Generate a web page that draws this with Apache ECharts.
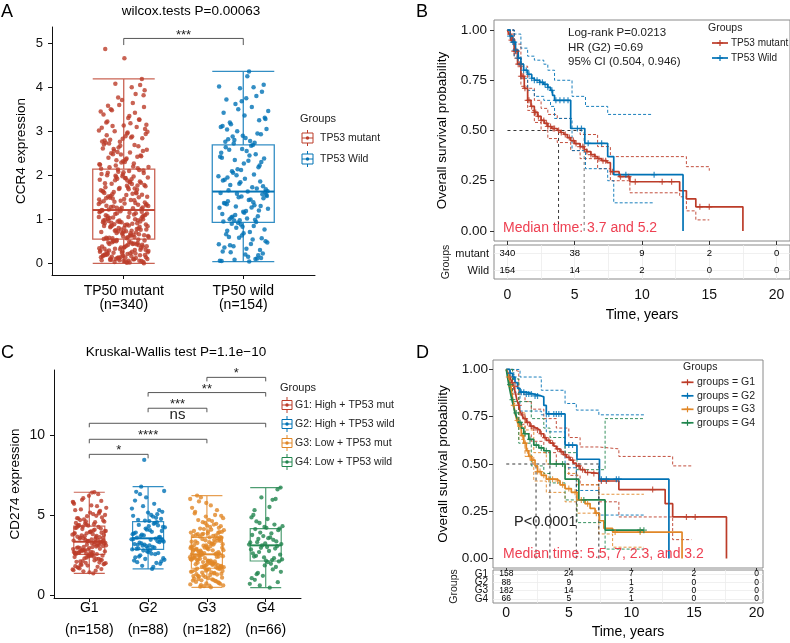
<!DOCTYPE html>
<html><head><meta charset="utf-8">
<script src="https://cdn.jsdelivr.net/npm/echarts@6/dist/echarts.min.js"></script>
<style>html,body{margin:0;padding:0;background:#fff}#c{width:790px;height:643px}</style>
</head><body><div id="c"></div>
<script>
const FONT = '"Liberation Sans", Arial, sans-serif';
const RED = '#BC3C29', BLUE = '#0072B5', ORANGE = '#E18727', GREEN = '#20854E';
const MEDRED = '#EE4052';

// ---------------- Panel A data ----------------
const titleA = 'wilcox.tests P=0.00063';
const legendA = ['TP53 mutant', 'TP53 Wild'];
const xLabelsA = ['TP50 mutant\n(n=340)', 'TP50 wild\n(n=154)'];
const yTicksA = [0, 1, 2, 3, 4, 5];
const boxMutantA = [0, 0.55, 1.21, 2.14, 4.19];
const boxWildA = [0.04, 0.93, 1.63, 2.69, 4.36];
const ccr4Mutant = [
0.02,0.11,0.05,0.27,0.18,0.09,0.33,0.14,0.01,0.22,0.41,0.07,0.29,0.16,0.48,0.03,0.36,0.2,0.12,0.53,
0.25,0.06,0.44,0.31,0.15,0.38,0.09,0.5,0.19,0.04,0.27,0.46,0.13,0.34,0.23,0.08,0.42,0.17,0.55,0.3,
0.1,0.39,0.21,0.47,0.06,0.32,0.14,0.26,0.51,0.0,0.37,0.19,0.43,0.12,0.28,0.49,0.08,0.35,0.24,0.16,
0.45,0.03,0.31,0.4,0.2,0.54,0.11,0.26,0.47,0.15,0.38,0.05,0.33,0.22,0.5,0.1,0.42,0.29,0.18,0.36,
0.07,0.44,0.24,0.52,0.13,
0.58,0.91,0.72,1.05,0.63,0.84,1.17,0.69,0.97,0.6,1.12,0.77,0.88,1.01,0.66,0.94,1.19,0.74,0.57,1.08,
0.81,0.99,0.7,1.14,0.62,0.86,1.03,0.76,0.93,1.2,0.65,0.89,1.1,0.73,0.56,0.98,0.8,1.16,0.68,0.92,
1.06,0.61,0.85,1.0,0.75,1.13,0.59,0.96,0.83,1.18,0.71,0.9,1.04,0.64,0.87,1.09,0.78,0.95,0.6,1.15,
0.82,1.02,0.67,0.93,1.11,0.74,0.88,0.57,1.07,0.79,0.97,1.19,0.63,0.86,1.0,0.72,0.91,1.14,0.69,0.84,
1.05,0.58,0.95,0.77,1.21,
1.25,1.62,1.38,1.94,1.31,1.77,2.08,1.45,1.85,1.28,1.56,2.02,1.41,1.7,1.99,1.34,1.88,1.52,2.12,1.23,
1.66,1.8,1.47,2.05,1.36,1.73,1.59,1.92,1.3,2.1,1.49,1.83,1.26,1.64,1.97,1.4,1.75,1.55,2.0,1.33,
1.69,1.9,1.44,1.81,1.27,2.07,1.6,1.37,1.96,1.51,1.72,1.22,1.86,1.42,2.03,1.58,1.29,1.78,1.93,1.48,
1.67,2.13,1.35,1.84,1.53,1.24,1.98,1.63,1.43,1.89,1.32,1.76,2.06,1.5,1.71,1.39,1.91,1.57,2.11,1.46,
1.82,1.61,1.26,1.95,1.68,
2.18,2.45,2.29,2.77,2.2,2.56,3.05,2.36,2.91,2.16,2.63,2.25,3.18,2.5,2.84,2.32,2.7,3.42,2.22,2.58,
2.97,2.4,3.26,2.67,2.15,2.88,2.48,3.55,2.3,2.74,3.1,2.53,2.19,3.35,2.81,2.43,3.71,2.61,2.27,3.0,
2.94,2.38,3.22,2.66,3.6,2.24,2.86,3.48,2.55,3.13,2.79,3.85,2.34,2.99,3.3,2.72,4.05,2.47,3.08,3.64,
2.6,3.93,2.89,3.2,2.42,3.77,3.02,2.52,3.5,4.19,2.83,3.38,2.69,4.08,3.15,2.95,3.58,3.27,2.76,3.45,
4.0,3.12,3.82,4.66,4.87];
const ccr4Wild = [
0.04,0.41,0.12,0.63,0.27,0.85,0.08,0.5,0.33,0.74,0.18,0.58,0.06,0.44,0.9,0.22,0.68,0.36,0.1,0.81,
0.47,0.15,0.6,0.3,0.88,0.05,0.54,0.39,0.77,0.2,0.66,0.11,0.92,0.43,0.71,0.25,0.57,0.83,
0.95,1.32,1.1,1.55,1.02,1.41,1.2,0.98,1.6,1.27,1.06,1.48,1.15,1.36,0.94,1.58,1.24,1.44,1.0,1.3,
1.52,1.12,1.39,0.97,1.62,1.19,1.34,1.07,1.5,1.26,1.45,1.04,1.57,1.17,1.37,0.99,1.29,1.53,1.63,
1.66,2.22,1.84,2.51,1.73,2.06,2.38,1.92,2.64,1.7,2.14,1.98,2.45,1.78,2.3,2.6,1.88,2.02,2.35,1.68,
2.55,1.95,2.18,1.81,2.42,2.67,2.09,1.75,2.27,1.9,2.48,2.0,1.64,2.33,2.58,1.86,2.12,2.4,2.69,
2.72,3.31,2.85,3.72,2.95,3.5,4.02,2.78,3.16,3.9,2.9,3.42,2.74,3.62,3.05,4.25,2.82,3.25,3.98,3.1,
3.55,2.88,4.06,3.36,2.76,3.8,3.0,3.46,4.36,3.2,2.93,3.68,3.12,4.0,2.8,3.28,3.75,3.04];
const bracketsA = [[1, 2, 5.11]];
const bracketLabelsA = ['***'];

// ---------------- Panel B data ----------------
const legendB = ['TP53 mutant', 'TP53 Wild'];
const kmMutant = [[0,1],[0.1,0.98],[0.25,0.95],[0.5,0.895],[0.75,0.83],[1.0,0.77],[1.25,0.71],[1.5,0.65],[1.75,0.62],[2.0,0.59],[2.25,0.57],[2.5,0.55],[2.75,0.535],[3.0,0.52],[3.3,0.51],[3.7,0.5],[3.95,0.49],[4.2,0.48],[4.45,0.465],[4.7,0.45],[5.0,0.435],[5.4,0.42],[5.7,0.405],[5.9,0.395],[6.2,0.38],[6.5,0.37],[6.7,0.36],[7.0,0.35],[7.4,0.34],[7.65,0.295],[8.3,0.27],[9.1,0.245],[12.8,0.2],[13.3,0.16],[14.0,0.12],[17.5,0]];
const kmWild = [[0,1],[0.2,0.97],[0.4,0.94],[0.6,0.9],[0.8,0.86],[1.0,0.83],[1.2,0.8],[1.5,0.78],[1.8,0.76],[2.0,0.75],[2.4,0.74],[2.7,0.73],[3.0,0.715],[3.2,0.7],[3.35,0.675],[3.5,0.65],[4.7,0.51],[5.75,0.436],[7.45,0.37],[7.9,0.28],[13.05,0]];
const ciMutantUp = [[0,1],[0.5,0.93],[1,0.82],[1.5,0.71],[2,0.65],[2.5,0.61],[3,0.58],[3.7,0.56],[4.7,0.51],[5.4,0.48],[6.7,0.42],[7.65,0.37],[12.8,0.37],[13.3,0.32],[15,0.3]];
const ciMutantLo = [[0,1],[0.5,0.86],[1,0.72],[1.5,0.6],[2,0.54],[2.5,0.5],[3,0.46],[3.7,0.44],[4.7,0.4],[5.4,0.36],[6.7,0.31],[7.65,0.25],[9.1,0.19],[12.8,0.17],[13.3,0.1],[14,0.055],[15,0.055]];
const ciWildUp = [[0,1],[0.5,0.98],[1,0.91],[1.5,0.87],[2,0.85],[2.7,0.83],[3.0,0.8],[3.5,0.75],[4.8,0.67],[5.8,0.62],[7.45,0.58],[10.8,0.58]];
const ciWildLo = [[0,1],[0.5,0.87],[1,0.76],[1.5,0.7],[2,0.67],[2.7,0.65],[3.2,0.62],[3.5,0.56],[4.8,0.4],[5.8,0.31],[7.45,0.25],[7.9,0.14],[10.8,0.14]];
const censorMutant = [0.2,0.3,0.4,0.5,0.6,0.7,0.8,0.9,1.0,1.1,1.2,1.3,1.5,1.6,1.8,2.0,2.1,2.3,2.5,2.7,2.9,3.0,3.2,3.4,3.5,3.8,4.0,4.3,4.6,4.9,5.1,5.4,5.6,5.9,6.2,6.5,6.8,7.1,7.3,7.8,8.4,9.0,9.5,11.5,12.2,14.3,15.0];
const censorWild = [0.2,0.4,0.5,0.6,0.8,1.0,1.2,1.4,1.6,1.8,2.0,2.2,2.4,2.6,2.8,3.0,3.3,3.6,3.9,4.2,4.5,5.2,5.5,6.0,7.0,8.8,10.9];
const mediansB = [3.8, 5.7];
const statsB = ['Log-rank P=0.0213', 'HR (G2) =0.69', '95% CI (0.504, 0.946)'];
const medianTextB = 'Median time: 3.7 and 5.2';
const riskTimes = [0, 5, 10, 15, 20];
const riskGroupsB = ['mutant', 'Wild'];
const riskMutant = [340, 38, 9, 2, 0];
const riskWild = [154, 14, 2, 0, 0];
const survTicks = [0, 0.25, 0.5, 0.75, 1];

// ---------------- Panel C data ----------------
const titleC = 'Kruskal-Wallis test P=1.1e\u221210';
const legendC = ['G1: High + TP53 mut', 'G2: High + TP53 wild', 'G3: Low + TP53 mut', 'G4: Low + TP53 wild'];
const xNamesC = ['G1', 'G2', 'G3', 'G4'];
const xCountsC = ['(n=158)', '(n=88)', '(n=182)', '(n=66)'];
const yTicksC = [0, 5, 10];
const boxesC = [[1.35, 2.54, 3.33, 4.31, 6.42], [1.63, 2.85, 3.54, 4.58, 6.77], [0.48, 1.67, 2.54, 3.6, 6.21], [0.46, 2.125, 3.1, 4.15, 6.71]];
const cd274G1 = [
1.35,2.1,1.62,2.41,1.8,2.25,1.48,1.95,2.5,1.71,2.03,2.33,1.55,2.16,1.88,2.46,1.42,2.07,1.76,2.29,
1.99,2.52,1.66,2.2,1.84,2.37,1.52,2.12,1.92,2.44,1.73,2.26,2.01,1.6,2.39,1.9,2.18,2.48,2.54,
2.56,3.01,2.72,3.24,2.63,2.89,3.14,2.68,3.3,2.8,3.06,2.59,2.95,3.19,2.76,3.1,2.66,2.92,3.27,2.84,
2.61,3.03,2.78,3.22,2.7,2.98,3.12,2.58,2.87,3.17,2.74,3.32,2.93,2.65,3.08,2.82,3.26,2.99,2.69,3.33,
3.36,3.82,3.5,4.12,3.41,3.95,3.64,4.25,3.45,3.77,4.03,3.58,3.89,3.38,4.18,3.7,3.54,3.99,3.47,4.3,
3.61,3.85,3.4,4.08,3.73,3.56,3.93,4.21,3.44,3.67,4.0,3.8,3.52,4.15,3.35,3.87,3.62,4.27,3.75,3.97,
4.35,5.1,4.6,5.82,4.42,5.35,4.85,6.2,4.5,5.55,4.72,5.0,6.4,4.38,5.25,4.92,5.7,4.55,5.95,4.65,
5.15,4.8,6.3,4.47,5.45,5.05,4.68,5.88,4.33,5.3,4.95,6.05,4.58,5.6,4.78,5.2,4.4,5.78,6.42];
const cd274G2 = [
1.63,2.4,1.95,2.72,2.15,2.55,1.82,2.3,2.8,2.05,2.62,2.25,2.85,1.75,2.48,2.1,2.68,2.35,2.0,2.78,2.2,2.58,
2.9,3.3,3.05,3.5,2.96,3.22,3.42,3.1,2.88,3.36,3.15,3.48,3.0,3.27,3.4,2.93,3.18,3.52,3.08,3.33,3.45,3.13,
3.6,4.15,3.8,4.45,3.68,4.0,4.3,3.9,4.55,3.72,4.22,3.95,4.38,3.63,4.08,3.85,4.5,3.77,4.25,4.05,3.58,4.35,
4.65,5.4,4.9,6.3,4.75,5.15,5.9,4.82,5.55,6.5,5.0,4.7,5.3,6.1,4.95,5.7,6.77,5.2,4.62,6.45,5.05,8.44];
const cd274G3 = [
0.48,1.2,0.75,1.52,0.9,1.35,0.62,1.08,1.6,0.82,1.28,0.55,1.45,0.98,1.15,0.7,1.58,1.02,0.88,1.4,
0.6,1.25,1.65,0.78,1.12,1.48,0.95,0.52,1.32,1.05,1.55,0.85,1.22,0.66,1.42,1.0,1.62,0.72,1.18,1.38,
0.92,1.5,0.58,1.3,1.67,
1.7,2.2,1.88,2.45,1.78,2.08,2.35,1.95,2.52,1.74,2.15,2.02,2.4,1.84,2.28,1.98,2.5,1.72,2.12,1.92,
2.38,1.8,2.24,2.05,2.47,1.68,1.9,2.32,2.1,1.76,2.42,2.0,2.18,1.86,2.3,2.54,1.94,2.26,1.82,2.14,
2.44,1.73,2.06,2.36,1.97,2.22,
2.58,3.1,2.75,3.45,2.66,2.95,3.3,2.84,3.55,2.62,3.02,3.2,2.7,3.38,2.9,3.12,2.56,3.5,2.8,3.05,
3.25,2.68,3.42,2.98,3.15,2.77,3.58,2.86,3.35,2.6,3.08,2.93,3.22,2.72,3.48,3.0,2.82,3.28,2.64,3.17,
3.6,2.88,3.4,2.96,3.33,2.79,
3.65,4.3,3.85,5.1,3.72,4.55,4.05,5.6,3.8,4.2,4.9,3.68,4.4,6.1,3.95,4.7,3.75,5.3,4.12,3.9,
4.62,5.85,3.62,4.35,4.0,5.0,3.78,4.8,4.25,6.21,3.88,4.5,5.45,3.7,4.15,4.95,3.98,5.2,4.45,3.82,
6.0,4.08,4.68,3.92,5.75];
const cd274G4 = [
0.46,1.3,0.8,1.85,1.05,1.6,0.6,1.45,2.05,0.95,1.75,1.2,0.7,1.95,1.38,2.1,
2.15,2.6,2.3,2.95,2.22,2.75,2.45,3.05,2.35,2.85,2.18,2.68,2.52,3.0,2.4,2.9,3.1,
3.15,3.6,3.3,4.05,3.22,3.75,3.45,3.9,3.18,3.55,4.12,3.35,3.68,3.28,3.85,3.5,4.15,
4.2,5.0,4.4,6.1,4.3,5.5,4.6,6.6,4.25,4.85,5.95,4.5,6.71,4.75,5.3,6.0];
const bracketsC = [[1, 2, 8.79], [1, 3, 9.73], [1, 4, 10.73], [2, 3, 11.67], [2, 4, 12.65], [3, 4, 13.6]];
const bracketLabelsC = ['*', '****', 'ns', '***', '**', '*'];

// ---------------- Panel D data ----------------
const legendD = ['groups = G1', 'groups = G2', 'groups = G3', 'groups = G4'];
const kmG1 = [[0,1],[0.15,0.98],[0.3,0.96],[0.45,0.93],[0.6,0.91],[0.75,0.87],[0.85,0.84],[1.0,0.81],[1.1,0.78],[1.25,0.76],[1.4,0.74],[1.6,0.72],[1.9,0.7],[2.1,0.69],[2.4,0.68],[2.7,0.66],[3.0,0.64],[3.2,0.625],[3.5,0.61],[3.8,0.595],[4.0,0.58],[4.3,0.565],[4.55,0.55],[4.8,0.535],[5.1,0.52],[5.35,0.505],[5.6,0.49],[5.9,0.47],[6.3,0.455],[6.7,0.45],[7.4,0.41],[9.0,0.365],[12.7,0.29],[13.3,0.22],[17.6,0]];
const kmG2 = [[0,1],[0.3,0.98],[0.5,0.96],[0.7,0.93],[0.9,0.9],[1.1,0.88],[1.6,0.87],[2.2,0.86],[2.8,0.855],[3.0,0.81],[3.2,0.765],[4.7,0.6],[5.65,0.525],[7.45,0.42],[13.0,0]];
const kmG3 = [[0,1],[0.1,0.98],[0.2,0.96],[0.35,0.91],[0.45,0.87],[0.6,0.81],[0.7,0.77],[0.85,0.73],[1.0,0.7],[1.2,0.65],[1.4,0.61],[1.6,0.57],[1.8,0.54],[2.0,0.52],[2.3,0.49],[2.5,0.46],[2.8,0.44],[3.2,0.42],[4.0,0.41],[4.3,0.39],[4.7,0.37],[5.2,0.35],[5.65,0.31],[6.3,0.29],[6.7,0.265],[7.1,0.24],[7.45,0.2],[7.8,0.16],[8.5,0.14],[14.05,0]];
const kmG4 = [[0,1],[0.1,0.96],[0.2,0.92],[0.35,0.87],[0.45,0.84],[0.6,0.8],[0.7,0.77],[0.85,0.745],[1.0,0.72],[1.2,0.69],[1.4,0.66],[1.8,0.63],[2.2,0.6],[2.6,0.585],[3.0,0.57],[3.5,0.5],[4.7,0.42],[5.8,0.31],[7.9,0.15],[11.0,0.15]];
const ciG1Up = [[0,1],[0.5,0.99],[1,0.87],[1.5,0.83],[2,0.79],[3,0.74],[4,0.69],[5,0.64],[5.9,0.59],[7.4,0.58],[9.0,0.54],[13.3,0.49],[14.8,0.49]];
const ciG1Lo = [[0,1],[0.5,0.87],[1,0.71],[1.5,0.66],[2,0.62],[3,0.56],[4,0.5],[5,0.44],[5.9,0.39],[7.4,0.3],[9.0,0.22],[13.3,0.1],[14.8,0.1]];
const ciG2Up = [[0,1],[1.1,0.96],[2.8,0.89],[4.7,0.82],[5.6,0.785],[7.4,0.76],[11,0.76]];
const ciG2Lo = [[0,1],[0.6,0.88],[1.1,0.78],[2.8,0.76],[3.2,0.67],[4.7,0.48],[5.6,0.36],[7.4,0.23],[11,0.23]];
const ciG3Up = [[0,1],[0.5,0.93],[1,0.77],[1.5,0.68],[2.2,0.56],[3.2,0.5],[4.7,0.45],[5.65,0.39],[7.4,0.34],[11,0.34]];
const ciG3Lo = [[0,1],[0.5,0.82],[1,0.63],[1.5,0.54],[2.2,0.41],[3.2,0.35],[4.7,0.3],[5.65,0.24],[7.4,0.13],[8.5,0.06],[11,0.06]];
const ciG4Up = [[0,1],[0.5,0.95],[1,0.83],[2,0.74],[3,0.69],[3.5,0.64],[4.7,0.56],[5.65,0.47],[7.9,0.74],[11,0.74]];
const ciG4Lo = [[0,1],[0.5,0.83],[1,0.61],[2,0.49],[3,0.45],[3.5,0.4],[4.7,0.31],[5.65,0.19],[7.9,0.05],[11,0.05]];
const censorG1 = [0.3,0.5,0.7,1.0,1.3,1.5,1.7,2.0,2.2,2.5,2.8,3.1,3.4,3.7,4.1,4.4,4.7,5.0,5.3,5.8,6.1,6.5,7.0,7.6,8.0,11.7,14.4,15.1];
const censorG2 = [0.3,0.6,1.2,1.4,1.6,1.8,2.0,2.3,2.5,3.4,3.8,4.0,4.2,4.4,5.0,5.3,7.6,8.0,8.8,9.0];
const censorG3 = [0.2,0.4,0.6,0.9,1.1,1.3,1.5,1.7,1.9,2.1,2.5,2.7,3.0,3.4,3.7,4.1,4.5,5.0,5.5,6.0,6.5,7.2,8.7,10.7];
const censorG4 = [0.3,0.5,0.8,1.1,1.5,1.9,2.4,2.8,3.2,4.0,4.5,6.2,10.7,11.0];
const mediansD = [2.38, 3.49, 5.6, 7.4];
const pTextD = 'P<0.0001';
const medianTextD = 'Median time: 5.5, 7, 2.3, and 3.2';
const riskGroupsD = ['G1', 'G2', 'G3', 'G4'];
const riskD = [[158, 24, 7, 2, 0], [88, 9, 1, 0, 0], [182, 14, 2, 0, 0], [66, 5, 1, 0, 0]];

// ---------------- helpers ----------------
function jitter(values, center, half) {
  // deterministic spread of points around the group centre (layout only)
  return values.map((v, i) => [center + ((((i + 1) * 0.6180339887) % 1) - 0.5) * 2 * half, v]);
}
function survAt(curve, t) {
  let s = 1;
  for (const p of curve) { if (p[0] <= t) s = p[1]; else break; }
  return s;
}
function fade(hex, a) {
  const n = parseInt(hex.slice(1), 16);
  return `rgba(${n >> 16},${(n >> 8) & 255},${n & 255},${a})`;
}
const PLUS = 'path://M4,0H6V4H10V6H6V10H4V6H0V4H4Z';

function kmLine(xi, data, color) {
  return { type: 'line', xAxisIndex: xi, yAxisIndex: xi, data, step: 'end', showSymbol: false, symbol: 'none',
    lineStyle: { color, width: 1.7 }, silent: true, z: 4, animation: false };
}
function ciLine(xi, data, color) {
  return { type: 'line', xAxisIndex: xi, yAxisIndex: xi, data, step: 'end', showSymbol: false, symbol: 'none',
    lineStyle: { color, width: 0.9, type: [3, 2] }, silent: true, z: 3, animation: false };
}
function censor(xi, times, curve, color) {
  return { type: 'scatter', xAxisIndex: xi, yAxisIndex: xi, data: times.map(t => [t, survAt(curve, t)]),
    symbol: PLUS, symbolSize: 6, itemStyle: { color }, silent: true, z: 5, animation: false };
}
function medianLines(xi, meds, colors) {
  const out = [];
  const maxM = Math.max(...meds);
  out.push({ type: 'line', xAxisIndex: xi, yAxisIndex: xi, data: [[0, 0.5], [maxM, 0.5]], symbol: 'none',
    lineStyle: { color: '#222', width: 0.9, type: [3, 3] }, silent: true, z: 3, animation: false });
  meds.forEach((m, i) => out.push({ type: 'line', xAxisIndex: xi, yAxisIndex: xi, data: [[m, 0], [m, 0.5]], symbol: 'none',
    lineStyle: { color: colors[i] || '#222', width: 0.9, type: [3, 3] }, silent: true, z: 3, animation: false }));
  return out;
}
function brackets(xi, data, labels, depth, fontFor) {
  return { type: 'custom', xAxisIndex: xi, yAxisIndex: xi, data, silent: true, z: 6, animation: false,
    renderItem: (params, api) => {
      const x1 = api.value(0), x2 = api.value(1), y = api.value(2);
      const p1 = api.coord([x1, y]), p2 = api.coord([x2, y]);
      const q1 = api.coord([x1, y - depth]), q2 = api.coord([x2, y - depth]);
      const lab = labels[params.dataIndex];
      return { type: 'group', children: [
        { type: 'polyline', shape: { points: [q1, p1, p2, q2] }, style: { stroke: '#444', fill: null, lineWidth: 0.9 } },
        { type: 'text', style: { text: lab, x: (p1[0] + p2[0]) / 2, y: p1[1] + (lab === 'ns' ? -1 : 3), align: 'center', verticalAlign: 'bottom',
          textAlign: 'center', textVerticalAlign: 'bottom', font: fontFor(lab), fill: '#222' } }
      ]};
    } };
}
// thicker median bar drawn on top of each box (ggplot style)
function medianBars(xi, centers, medians, colors, halfPx) {
  return { type: 'custom', xAxisIndex: xi, yAxisIndex: xi, data: centers.map((c, i) => [c, medians[i]]), silent: true, z: 2.5, animation: false,
    renderItem: (params, api) => {
      const p = api.coord([api.value(0), api.value(1)]);
      return { type: 'line', shape: { x1: p[0] - halfPx, y1: p[1], x2: p[0] + halfPx, y2: p[1] },
        style: { stroke: fade(colors[params.dataIndex], 0.85), lineWidth: 2 } };
    } };
}
function riskSeries(xi, group, counts) {
  return { type: 'scatter', xAxisIndex: xi, yAxisIndex: xi, symbolSize: 2, itemStyle: { color: '#fff', opacity: 0 },
    data: riskTimes.map((t, i) => [t, group, counts[i]]), silent: true, animation: false, z: 6,
    label: { show: true, position: 'inside', formatter: p => String(p.value[2]), fontFamily: FONT,
      fontSize: xi === 2 ? 9.5 : 8.5, color: '#000', opacity: 1, textBorderWidth: 0, textBorderColor: 'transparent' } };
}
function tableGrid(xi, cats) {
  const ml = [];
  [0, 2.5, 5, 7.5, 10, 12.5, 15, 17.5, 20].forEach(v => ml.push({ xAxis: v }));
  cats.forEach(c => ml.push({ yAxis: c }));
  return { type: 'line', xAxisIndex: xi, yAxisIndex: xi, data: [], silent: true, animation: false,
    markLine: { silent: true, symbol: ['none', 'none'], label: { show: false }, animation: false,
      lineStyle: { color: '#ececec', type: 'solid', width: 0.8 }, data: ml } };
}

const AXC = '#111';
function plainHidden(gi, min, max, extra) {
  return Object.assign({ gridIndex: gi, type: 'value', min, max, axisLine: { show: false, onZero: false },
    axisTick: { show: false }, axisLabel: { show: false }, splitLine: { show: false } }, extra || {});
}

const xAxis = [
  // A
  { gridIndex: 0, type: 'value', min: 0.4, max: 2.6, splitLine: { show: false },
    axisLine: { onZero: false, lineStyle: { color: AXC, width: 1 } },
    axisTick: { customValues: [1, 2], length: 4, lineStyle: { color: AXC } },
    axisLabel: { customValues: [1, 2], formatter: v => xLabelsA[Math.round(v) - 1], fontFamily: FONT, fontSize: 14, lineHeight: 14, margin: 9, color: '#000' } },
  // B main
  plainHidden(1, -1, 21, { axisTick: { show: true, customValues: riskTimes, length: 4, lineStyle: { color: '#333' } } }),
  // B table
  { gridIndex: 2, type: 'value', min: -1, max: 21, splitLine: { show: false },
    axisLine: { show: false, onZero: false },
    axisTick: { customValues: riskTimes, length: 4, lineStyle: { color: '#333' } },
    axisLabel: { customValues: riskTimes, fontFamily: FONT, fontSize: 14, margin: 9, color: '#111' },
    name: 'Time, years', nameLocation: 'middle', nameGap: 29, nameTextStyle: { fontFamily: FONT, fontSize: 14, color: '#000' } },
  // C
  { gridIndex: 3, type: 'value', min: 0.4, max: 4.6, splitLine: { show: false },
    axisLine: { onZero: false, lineStyle: { color: AXC, width: 1 } },
    axisTick: { customValues: [1, 2, 3, 4], length: 4, lineStyle: { color: AXC } },
    axisLabel: { customValues: [1, 2, 3, 4], formatter: v => { const i = Math.round(v) - 1; return '{a|' + xNamesC[i] + '}\n{b|' + xCountsC[i] + '}'; },
      margin: 2, color: '#000', fontFamily: FONT,
      rich: { a: { fontFamily: FONT, fontSize: 14, lineHeight: 16, color: '#000' }, b: { fontFamily: FONT, fontSize: 14, lineHeight: 28, color: '#000' } } } },
  // D main
  plainHidden(4, -1.06, 20.52, { axisTick: { show: true, customValues: riskTimes, length: 3, lineStyle: { color: '#333' } } }),
  // D table
  { gridIndex: 5, type: 'value', min: -1.06, max: 20.52, splitLine: { show: false },
    axisLine: { show: false, onZero: false },
    axisTick: { customValues: riskTimes, length: 3, lineStyle: { color: '#333' } },
    axisLabel: { customValues: riskTimes, fontFamily: FONT, fontSize: 14, margin: 3, color: '#111' },
    name: 'Time, years', nameLocation: 'middle', nameGap: 22, nameTextStyle: { fontFamily: FONT, fontSize: 14, color: '#000' } }
];

const survY = (gi) => ({ gridIndex: gi, type: 'value', min: -0.05, max: 1.05, splitLine: { show: false },
  axisLine: { show: false, onZero: false },
  axisTick: { customValues: survTicks, length: 4, lineStyle: { color: '#333' } },
  axisLabel: { customValues: survTicks, formatter: v => v.toFixed(2), fontFamily: FONT, fontSize: 13.5, margin: gi === 1 ? 7 : 5, color: '#111' },
  name: 'Overall survival probability', nameLocation: 'middle', nameGap: gi === 1 ? 45 : 43,
  nameTextStyle: { fontFamily: FONT, fontSize: 13.5, color: '#000' } });

const yAxis = [
  { gridIndex: 0, type: 'value', min: -0.266, max: 5.37, splitLine: { show: false },
    axisLine: { onZero: false, lineStyle: { color: AXC, width: 1 } },
    axisTick: { customValues: yTicksA, length: 4, lineStyle: { color: AXC } },
    axisLabel: { customValues: yTicksA, fontFamily: FONT, fontSize: 13, margin: 9, color: '#111' },
    name: 'CCR4 expression', nameLocation: 'middle', nameGap: 24, nameTextStyle: { fontFamily: FONT, fontSize: 13.5, color: '#000' } },
  survY(1),
  { gridIndex: 2, type: 'category', data: riskGroupsB, inverse: true, splitLine: { show: false },
    axisLine: { show: false }, axisTick: { show: true, alignWithLabel: true, length: 3, lineStyle: { color: '#333' } },
    axisLabel: { interval: 0, fontFamily: FONT, fontSize: 11, margin: 5, color: '#111' },
    name: 'Groups', nameLocation: 'middle', nameGap: 40, nameTextStyle: { fontFamily: FONT, fontSize: 10.5, color: '#222' } },
  { gridIndex: 3, type: 'value', min: -0.1875, max: 14.06, splitLine: { show: false },
    axisLine: { onZero: false, lineStyle: { color: AXC, width: 1 } },
    axisTick: { customValues: yTicksC, length: 4, lineStyle: { color: AXC } },
    axisLabel: { customValues: yTicksC, fontFamily: FONT, fontSize: 14, margin: 9, color: '#111' },
    name: 'CD274 expression', nameLocation: 'middle', nameGap: 32, nameTextStyle: { fontFamily: FONT, fontSize: 13.5, color: '#000' } },
  survY(4),
  { gridIndex: 5, type: 'category', data: riskGroupsD, inverse: true, splitLine: { show: false },
    axisLine: { show: false }, axisTick: { show: true, interval: 0, alignWithLabel: true, length: 3, lineStyle: { color: '#333' } },
    axisLabel: { interval: 0, hideOverlap: false, fontFamily: FONT, fontSize: 10, margin: 5, color: '#111', lineHeight: 8 },
    name: 'Groups', nameLocation: 'middle', nameGap: 33, nameTextStyle: { fontFamily: FONT, fontSize: 10.5, color: '#222' } }
];

const FRAME = { show: true, borderColor: '#8a8a8a', borderWidth: 1, backgroundColor: 'rgba(0,0,0,0)' };
const grid = [
  { left: 52, top: 27, width: 263, height: 248 },
  Object.assign({ left: 494, top: 20, width: 296, height: 221 }, FRAME),
  Object.assign({ left: 494, top: 245, width: 296, height: 34 }, FRAME),
  { left: 54, top: 370, width: 247, height: 228 },
  Object.assign({ left: 493, top: 360, width: 270, height: 208 }, FRAME),
  Object.assign({ left: 493, top: 570, width: 270, height: 33 }, FRAME)
];

const series = [];
// ---- A
series.push({ type: 'boxplot', xAxisIndex: 0, yAxisIndex: 0, boxWidth: [62, 62], silent: true, animation: false, z: 2,
  itemStyle: { color: '#fff', borderWidth: 1.3 },
  data: [{ value: [1].concat(boxMutantA), itemStyle: { borderColor: fade(RED, 0.8) } },
         { value: [2].concat(boxWildA), itemStyle: { borderColor: fade(BLUE, 0.8) } }] });
series.push(medianBars(0, [1, 2], [boxMutantA[2], boxWildA[2]], [RED, BLUE], 31));
series.push({ type: 'scatter', xAxisIndex: 0, yAxisIndex: 0, data: jitter(ccr4Mutant, 1, 0.21), symbolSize: 4.5, itemStyle: { color: RED }, silent: true, animation: false, z: 3 });
series.push({ type: 'scatter', xAxisIndex: 0, yAxisIndex: 0, data: jitter(ccr4Wild, 2, 0.21), symbolSize: 4.5, itemStyle: { color: BLUE }, silent: true, animation: false, z: 3 });
series.push(brackets(0, bracketsA, bracketLabelsA, 0.15, () => '13px ' + FONT));

// ---- B
series.push(ciLine(1, ciMutantUp, RED), ciLine(1, ciMutantLo, RED), ciLine(1, ciWildUp, BLUE), ciLine(1, ciWildLo, BLUE));
series.push(...medianLines(1, mediansB, ['#222', '#666']));
series.push(kmLine(1, kmMutant, RED), kmLine(1, kmWild, BLUE));
series.push(censor(1, censorMutant, kmMutant, RED), censor(1, censorWild, kmWild, BLUE));
series.push(tableGrid(2, riskGroupsB));
series.push(riskSeries(2, 'mutant', riskMutant), riskSeries(2, 'Wild', riskWild));

// ---- C
const colorsC = [RED, BLUE, ORANGE, GREEN];
series.push({ type: 'boxplot', xAxisIndex: 3, yAxisIndex: 3, boxWidth: [31, 31], silent: true, animation: false, z: 2,
  itemStyle: { color: '#fff', borderWidth: 1.2 },
  data: boxesC.map((b, i) => ({ value: [i + 1].concat(b), itemStyle: { borderColor: fade(colorsC[i], 0.8) } })) });
series.push(medianBars(3, [1, 2, 3, 4], boxesC.map(b => b[2]), colorsC, 15.5));
[cd274G1, cd274G2, cd274G3, cd274G4].forEach((vals, i) => {
  series.push({ type: 'scatter', xAxisIndex: 3, yAxisIndex: 3, data: jitter(vals, i + 1, 0.29), symbolSize: 4.3,
    itemStyle: { color: colorsC[i] }, silent: true, animation: false, z: 3 });
});
series.push(brackets(3, bracketsC, bracketLabelsC, 0.25, l => (l === 'ns' ? '15px ' : '13px ') + FONT));

// ---- D
series.push(ciLine(4, ciG1Up, RED), ciLine(4, ciG1Lo, RED), ciLine(4, ciG2Up, BLUE), ciLine(4, ciG2Lo, BLUE),
            ciLine(4, ciG3Up, ORANGE), ciLine(4, ciG3Lo, ORANGE), ciLine(4, ciG4Up, GREEN), ciLine(4, ciG4Lo, GREEN));
series.push(...medianLines(4, mediansD, ['#222', '#222', '#222', '#222']));
series.push(kmLine(4, kmG1, RED), kmLine(4, kmG2, BLUE), kmLine(4, kmG3, ORANGE), kmLine(4, kmG4, GREEN));
series.push(censor(4, censorG1, kmG1, RED), censor(4, censorG2, kmG2, BLUE), censor(4, censorG3, kmG3, ORANGE), censor(4, censorG4, kmG4, GREEN));
series.push(tableGrid(5, riskGroupsD));
riskGroupsD.forEach((g, i) => series.push(riskSeries(5, g, riskD[i])));

// ---------------- text & legends (graphic) ----------------
function txt(text, x, y, size, color, align, vAlign) {
  return { type: 'text', silent: true, z: 10, style: { text, x, y, font: size + 'px ' + FONT, fill: color || '#000',
    align: align || 'left', verticalAlign: vAlign || 'middle', textAlign: align || 'left', textVerticalAlign: vAlign || 'middle' } };
}
function boxKey(cx, cy, w, h, wh, color) {
  return [
    { type: 'line', silent: true, z: 10, shape: { x1: cx, y1: cy - wh, x2: cx, y2: cy + wh }, style: { stroke: color, lineWidth: 1 } },
    { type: 'rect', silent: true, z: 10, shape: { x: cx - w / 2, y: cy - h / 2, width: w, height: h }, style: { fill: '#fff', stroke: color, lineWidth: 1 } },
    { type: 'line', silent: true, z: 10, shape: { x1: cx - w / 2, y1: cy, x2: cx + w / 2, y2: cy }, style: { stroke: color, lineWidth: 1 } },
    { type: 'circle', silent: true, z: 11, shape: { cx, cy, r: 1.7 }, style: { fill: color } }
  ];
}
function lineKey(x1, x2, cy, color) {
  const m = (x1 + x2) / 2;
  return [
    { type: 'line', silent: true, z: 10, shape: { x1, y1: cy, x2, y2: cy }, style: { stroke: color, lineWidth: 1.7 } },
    { type: 'line', silent: true, z: 10, shape: { x1: m, y1: cy - 3, x2: m, y2: cy + 3 }, style: { stroke: color, lineWidth: 1.2 } },
    { type: 'line', silent: true, z: 10, shape: { x1: m - 3, y1: cy, x2: m + 3, y2: cy }, style: { stroke: color, lineWidth: 1.2 } }
  ];
}
const graphic = [];
graphic.push(txt('A', 1, 12, 18, '#000'), txt('B', 416, 12, 18, '#000'), txt('C', 1, 353, 18, '#000'), txt('D', 416, 353, 18, '#000'));
graphic.push(txt(titleA, 191, 11, 13.5, '#000', 'center'));
graphic.push(txt(titleC, 176, 352, 13.5, '#000', 'center'));
// A legend
graphic.push(txt('Groups', 300, 119, 11, '#222'));
[RED, BLUE].forEach((c, i) => { const y = 138 + i * 21; graphic.push(...boxKey(307.5, y, 11, 10, 8, c), txt(legendA[i], 320, y, 10.5, '#222')); });
// C legend
graphic.push(txt('Groups', 280, 388, 11, '#222'));
colorsC.forEach((c, i) => { const y = 405 + i * 19; graphic.push(...boxKey(287, y, 10, 9, 8, c), txt(legendC[i], 295, y, 10.5, '#222')); });
// B legend & stats
graphic.push(txt('Groups', 708, 28, 10.5, '#222'));
[RED, BLUE].forEach((c, i) => { const y = 43 + i * 15; graphic.push(...lineKey(712, 728, y, c), txt(legendB[i], 731, y, 10, '#222')); });
statsB.forEach((s, i) => graphic.push(txt(s, 568, 33 + i * 14.5, 11.5, '#222')));
graphic.push(txt(medianTextB, 503, 228, 14, MEDRED));
// D legend & stats
graphic.push(txt('Groups', 683, 367, 10.5, '#222'));
[RED, BLUE, ORANGE, GREEN].forEach((c, i) => { const y = 382.3 + i * 13.5; graphic.push(...lineKey(681.5, 693.5, y, c), txt(legendD[i], 697, y, 10.5, '#222')); });
graphic.push(txt(pTextD, 514, 522, 14.5, '#222'));
graphic.push(txt(medianTextD, 503, 554, 14, MEDRED));

const chart = echarts.init(document.getElementById('c'));
chart.setOption({ animation: false, backgroundColor: '#fff', textStyle: { fontFamily: FONT }, grid, xAxis, yAxis, series, graphic });
</script>
</body></html>
